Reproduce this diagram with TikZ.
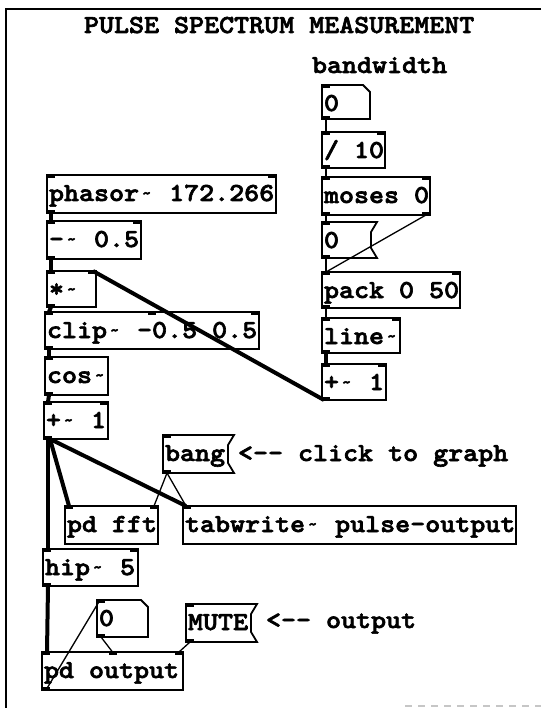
\documentclass[tikz,border=0pt]{standalone}
\usepackage{fontspec}
\newfontfamily\pdfont{lmmonolt10-bold.otf}[FakeBold=2.4, FakeStretch=1.1]
\usetikzlibrary{calc}
\newcommand\pdt{\hbox to \fontcharwd\font`x{\hss\raisebox{2.5pt}{\scalebox{0.65}{\textasciitilde}}\hss}}
\newcommand\dd{-\kern0pt-}
\tikzset{
  pdbox/.style={draw, line width=1.8, inner sep=0, outer sep=0, anchor=north west},
  hitbox/.style={inner sep=0, outer sep=0, anchor=north west},
  boxline/.style={line width=1.8},
  pdtxt/.style={inner sep=0, outer sep=0, anchor=base west, font=\pdfont\fontsize{26}{26}\selectfont},
  sig/.style={line width=4},
  ctl/.style={line width=1.3},
  iolet/.style={fill=black}
}
% object box: name, x, y, w, h, text
\newcommand\pdobj[6]{%
  \node[pdbox, minimum width=#4, minimum height=#5] (#1) at (#2,#3) {};
  \node[pdtxt] (#1-t) at ([xshift=2,yshift=-26]#1.north west) {#6};}
% message box with flag
\newcommand\pdmsg[6]{%
  \node[hitbox, minimum width=#4, minimum height=#5] (#1) at (#2,#3) {};
  \draw[boxline] (#1.north east) -- ([xshift=-6,yshift=-10]#1.north east) -- ([xshift=-6,yshift=10]#1.south east) -- (#1.south east) -- (#1.south west) -- (#1.north west) -- cycle;
  \node[pdtxt] (#1-t) at ([xshift=2,yshift=-26]#1.north west) {#6};}
% number box with cut corner
\newcommand\pdnum[6]{%
  \node[hitbox, minimum width=#4, minimum height=#5] (#1) at (#2,#3) {};
  \draw[boxline] (#1.north west) -- ([xshift=-7]#1.north east) -- ([yshift=-7]#1.north east) -- (#1.south east) -- (#1.south west) -- cycle;
  \node[pdtxt] (#1-t) at ([xshift=2,yshift=-26]#1.north west) {#6};}
\newcommand\iL[1]{\fill[iolet] (#1.north west) rectangle ++(8,3);}
\newcommand\iR[1]{\fill[iolet] (#1.north east) rectangle ++(-8,3);}
\newcommand\iM[1]{\fill[iolet] ([xshift=-4]#1.north) rectangle ++(8,3);}
\newcommand\oL[1]{\fill[iolet] (#1.south west) rectangle ++(8,-3);}
\newcommand\oR[1]{\fill[iolet] (#1.south east) rectangle ++(-8,-3);}
\begin{document}
\begin{tikzpicture}[x=1pt,y=-1pt]
\useasboundingbox[fill=white] (0,0) rectangle (541,708);
% frame
\draw[line width=2] (541,9) -- (6,9) -- (6,708);
\draw[gray!45, line width=2, dash pattern=on 7pt off 6pt] (405,706) -- (541,706);
% free texts
\node[pdtxt] (title) at (84,33) {PULSE SPECTRUM MEASUREMENT};
\node[pdtxt] (bwlabel) at (312,73) {bandwidth};
\node[pdtxt] (clicklabel) at (238,461) {<\dd{} click to graph};
\node[pdtxt] (outlabel) at (266,628) {<\dd{} output};
% right column
\pdnum{bwnum}{322}{85}{48}{34}{0}
\pdobj{div}{322}{132}{63}{36}{/ 10}
\pdobj{moses}{322}{177}{108}{38}{moses 0}
\pdmsg{msgz}{322}{222}{55}{36}{0}
\pdobj{pack}{322}{272}{138}{36}{pack 0 50}
\pdobj{linet}{322}{318}{78}{35}{line\pdt}
\pdobj{plusr}{322}{364}{64}{36}{+\pdt{} 1}
% left column
\pdobj{phasor}{47}{175}{229}{38}{phasor\pdt{} 172.266}
\pdobj{minus}{47}{221}{94}{38}{-\pdt{} 0.5}
\pdobj{times}{47}{271}{49}{36}{*\pdt}
\pdobj{clip}{45}{312}{214}{37}{clip\pdt{} -0.5 0.5}
\pdobj{cosb}{45}{357}{63}{38}{cos\pdt}
\pdobj{plusl}{44}{402}{64}{37}{+\pdt{} 1}
\pdmsg{bang}{163}{435}{71}{38}{bang}
\pdobj{fft}{65}{506}{93}{38}{pd fft}
\pdobj{tabw}{183}{506}{333}{38}{tabwrite\pdt{} pulse-output}
\pdobj{hip}{43}{549}{95}{37}{hip\pdt{} 5}
\pdnum{outnum}{97}{600}{51}{37}{0}
\pdmsg{mute}{186}{604}{71}{38}{MUTE}
\pdobj{pdout}{42}{652}{141}{38}{pd output}
% iolets
\iL{bwnum}\oL{bwnum}
\iL{div}\iR{div}\oL{div}
\iL{moses}\iR{moses}\oL{moses}\oR{moses}
\iL{msgz}\oL{msgz}
\iL{pack}\iR{pack}\oL{pack}
\iL{linet}\iR{linet}\oL{linet}
\iL{plusr}\iR{plusr}\oL{plusr}
\iL{phasor}\iR{phasor}\oL{phasor}
\iL{minus}\iR{minus}\oL{minus}
\iL{times}\iR{times}\oL{times}
\iL{clip}\iM{clip}\iR{clip}\oL{clip}
\iL{cosb}\oL{cosb}
\iL{plusl}\iR{plusl}\oL{plusl}
\iL{bang}\oL{bang}
\iL{fft}\iR{fft}
\iL{tabw}
\iL{hip}\iR{hip}\oL{hip}
\iL{outnum}\oL{outnum}
\iL{mute}\oL{mute}
\iL{pdout}\iM{pdout}\iR{pdout}\oL{pdout}
% signal connections
\draw[sig] ([xshift=4]phasor.south west) -- ([xshift=4]minus.north west);
\draw[sig] ([xshift=4]minus.south west) -- ([xshift=4]times.north west);
\draw[sig] ([xshift=4]times.south west) -- ([xshift=4]clip.north west);
\draw[sig] ([xshift=4]clip.south west) -- ([xshift=4]cosb.north west);
\draw[sig] ([xshift=4]cosb.south west) -- ([xshift=4]plusl.north west);
\draw[sig] ([xshift=6]plusl.south west) -- ([xshift=4]fft.north west);
\draw[sig] ([xshift=6]plusl.south west) -- ([xshift=3]tabw.north west);
\draw[sig] ([xshift=4]plusl.south west) -- ([xshift=5]hip.north west);
\draw[sig] ([xshift=5]hip.south west) -- ([xshift=5]pdout.north west);
\draw[sig] ([xshift=2]plusr.south west) -- ([xshift=-3]times.north east);
\draw[sig] ([xshift=4]linet.south west) -- ([xshift=4]plusr.north west);
% control connections
\draw[ctl] ([xshift=4]bwnum.south west) -- ([xshift=4]div.north west);
\draw[ctl] ([xshift=4]div.south west) -- ([xshift=4]moses.north west);
\draw[ctl] ([xshift=4]moses.south west) -- ([xshift=4]msgz.north west);
\draw[ctl] ([xshift=-4]moses.south east) -- ([xshift=4]pack.north west);
\draw[ctl] ([xshift=4]msgz.south west) -- ([xshift=4]pack.north west);
\draw[ctl] ([xshift=4]pack.south west) -- ([xshift=4]linet.north west);
\draw[ctl] ([xshift=4]bang.south west) -- ([xshift=-4]fft.north east);
\draw[ctl] ([xshift=4]bang.south west) -- ([xshift=3]tabw.north west);
\draw[ctl] ([xshift=4]pdout.south west) -- ([xshift=3]outnum.north west);
\draw[ctl] ([xshift=4]outnum.south west) -- ([xshift=0]pdout.north);
\draw[ctl] ([xshift=4]mute.south west) -- ([xshift=-4]pdout.north east);
\end{tikzpicture}
\end{document}
